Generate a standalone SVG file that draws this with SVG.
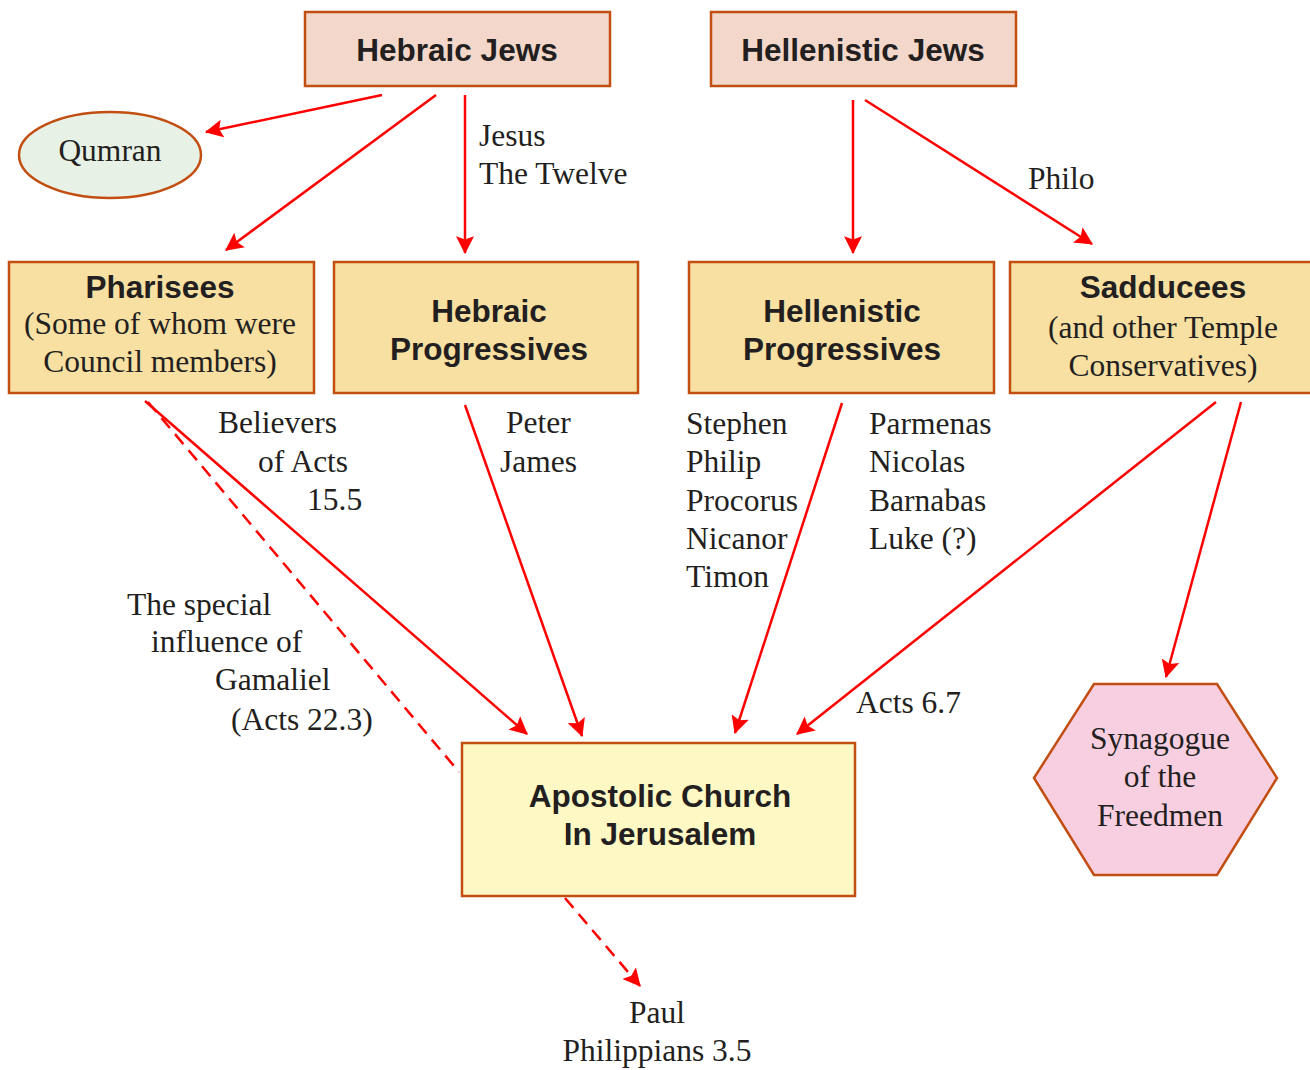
<svg xmlns="http://www.w3.org/2000/svg" width="1310" height="1070" viewBox="0 0 1310 1070">
<defs>
<marker id="ah" markerUnits="userSpaceOnUse" markerWidth="18" markerHeight="18" viewBox="0 0 16 16" refX="15" refY="8" orient="auto">
<path d="M0,0 L16,8 L0,16 L3,8 z" fill="#ff0000"/>
</marker>
<style>
.box{stroke:#c24e12;stroke-width:2.5}
.top{fill:#f2d7ca}
.mid{fill:#f8dfa2}
.b{font-family:"Liberation Sans",Arial,sans-serif;font-weight:bold;font-size:31.5px;fill:#231f20;text-anchor:middle}
.s{font-family:"Liberation Serif","Times New Roman",serif;font-size:31.5px;fill:#231f20}
.c{text-anchor:middle}
.ln{stroke:#ff0000;stroke-width:2.5;fill:none}
.arr{marker-end:url(#ah)}
.d{stroke-dasharray:13,8}
</style>
</defs>
<g id="connectors">
<line class="ln arr" x1="382" y1="95" x2="206" y2="132"/>
<line class="ln arr" x1="436" y1="95" x2="226" y2="250"/>
<line class="ln arr" x1="465" y1="95" x2="465" y2="253"/>
<line class="ln arr" x1="853" y1="100" x2="853" y2="253"/>
<line class="ln arr" x1="865" y1="100" x2="1092" y2="244"/>
<line class="ln arr" x1="145" y1="401" x2="527" y2="734"/>
<line class="ln d" x1="148" y1="402" x2="459" y2="772"/>
<line class="ln arr" x1="465" y1="405" x2="582" y2="736"/>
<line class="ln arr" x1="842" y1="403" x2="735" y2="733"/>
<line class="ln arr" x1="1216" y1="402" x2="797" y2="734"/>
<line class="ln arr" x1="1241" y1="402" x2="1166" y2="677"/>
<line class="ln d arr" x1="565" y1="898" x2="640" y2="986"/>
</g>
<g id="hebraic-jews">
<rect class="box top" x="305" y="12" width="305" height="74"/>
<text class="b" x="457" y="61">Hebraic Jews</text>
</g>
<g id="hellenistic-jews">
<rect class="box top" x="711" y="12" width="305" height="74"/>
<text class="b" x="863" y="61">Hellenistic Jews</text>
</g>
<g id="qumran">
<ellipse cx="110" cy="155" rx="91" ry="43" fill="#e8f1e5" stroke="#c24e12" stroke-width="2.5"/>
<text class="s c" x="110" y="161">Qumran</text>
</g>
<g id="pharisees">
<rect class="box mid" x="9" y="262" width="305" height="131"/>
<text class="b" x="160" y="298">Pharisees</text>
<text class="s c" x="160" y="334">(Some of whom were</text>
<text class="s c" x="160" y="372">Council members)</text>
</g>
<g id="hebraic-progressives">
<rect class="box mid" x="334" y="262" width="304" height="131"/>
<text class="b" x="489" y="322">Hebraic</text>
<text class="b" x="489" y="360">Progressives</text>
</g>
<g id="hellenistic-progressives">
<rect class="box mid" x="689" y="262" width="305" height="131"/>
<text class="b" x="842" y="322">Hellenistic</text>
<text class="b" x="842" y="360">Progressives</text>
</g>
<g id="sadducees">
<rect class="box mid" x="1010" y="262" width="305" height="131"/>
<text class="b" x="1163" y="298">Sadducees</text>
<text class="s c" x="1163" y="338">(and other Temple</text>
<text class="s c" x="1163" y="376">Conservatives)</text>
</g>
<g id="apostolic-church">
<rect class="box" x="462" y="743" width="393" height="153" fill="#fef8c5"/>
<text class="b" x="660" y="807">Apostolic Church</text>
<text class="b" x="660" y="845">In Jerusalem</text>
</g>
<g id="synagogue">
<polygon points="1034,778 1094,684 1217,684 1277,778 1217,875 1094,875" fill="#f8cfe1" stroke="#c24e12" stroke-width="2.5"/>
<text class="s c" x="1160" y="749">Synagogue</text>
<text class="s c" x="1160" y="787">of the</text>
<text class="s c" x="1160" y="826">Freedmen</text>
</g>
<g id="labels">
<text class="s" x="479" y="146">Jesus</text>
<text class="s" x="479" y="184">The Twelve</text>
<text class="s" x="1028" y="189">Philo</text>
<text class="s" x="218" y="433">Believers</text>
<text class="s" x="258" y="472">of Acts</text>
<text class="s" x="307" y="510">15.5</text>
<text class="s" x="506" y="433">Peter</text>
<text class="s" x="500" y="472">James</text>
<text class="s" x="686" y="434">Stephen</text>
<text class="s" x="686" y="472">Philip</text>
<text class="s" x="686" y="511">Procorus</text>
<text class="s" x="686" y="549">Nicanor</text>
<text class="s" x="686" y="587">Timon</text>
<text class="s" x="869" y="434">Parmenas</text>
<text class="s" x="869" y="472">Nicolas</text>
<text class="s" x="869" y="511">Barnabas</text>
<text class="s" x="869" y="549">Luke (?)</text>
<text class="s" x="127" y="615">The special</text>
<text class="s" x="151" y="652">influence of</text>
<text class="s" x="215" y="690">Gamaliel</text>
<text class="s" x="231" y="730">(Acts 22.3)</text>
<text class="s" x="856" y="713">Acts 6.7</text>
<text class="s c" x="657" y="1023">Paul</text>
<text class="s c" x="657" y="1061">Philippians 3.5</text>
</g>
</svg>
